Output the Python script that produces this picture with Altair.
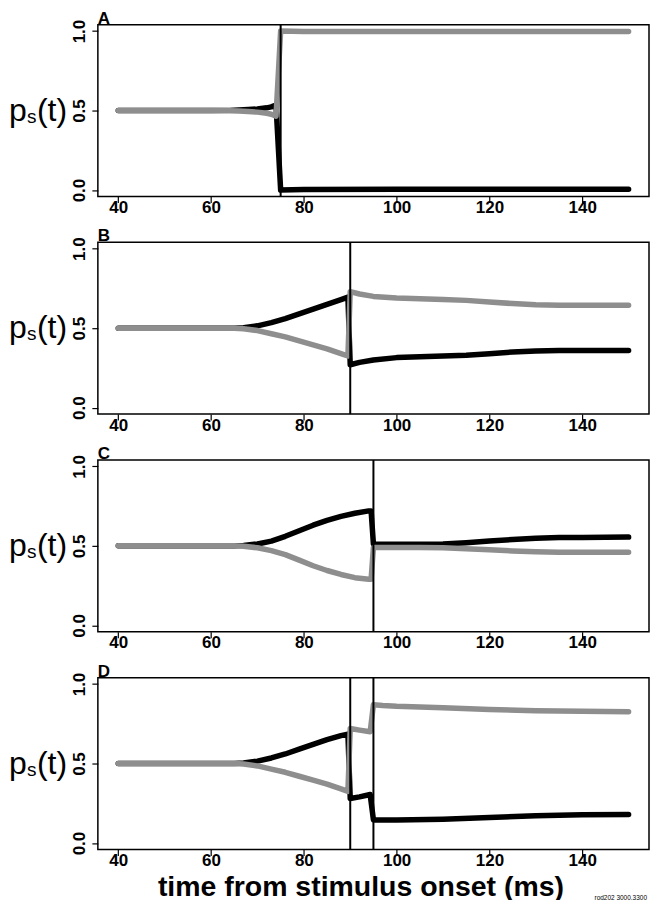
import altair as alt
import pandas as pd

# ---------------- data ----------------
XTICKS = [40, 60, 80, 100, 120, 140]
YTICKS = [0.0, 0.5, 1.0]
LETTERS = ["A", "B", "C", "D"]

tA = [40, 50, 60, 64, 66, 68, 70, 72, 73, 74, 75, 80, 100, 120, 150]
blackA = [0.5, 0.5, 0.5, 0.501, 0.503, 0.506, 0.51, 0.517, 0.523, 0.535, 0.0, 0.004, 0.005, 0.005, 0.005]
grayA = [0.5, 0.5, 0.5, 0.499, 0.497, 0.494, 0.49, 0.483, 0.477, 0.465, 1.0, 0.997, 0.997, 0.997, 0.997]
vA = [75]

tB = [40, 60, 65, 67, 70, 73, 76, 79, 82, 85, 88, 89.5, 90, 92, 95, 100, 105, 110, 115, 120, 125, 130, 135, 140, 145, 150]
blackB = [0.5, 0.5, 0.5, 0.503, 0.515, 0.535, 0.56, 0.59, 0.62, 0.65, 0.68, 0.695, 0.27, 0.285, 0.30, 0.315, 0.32, 0.325, 0.33, 0.34, 0.35, 0.357, 0.36, 0.36, 0.36, 0.36]
grayB = [0.5, 0.5, 0.5, 0.497, 0.485, 0.465, 0.445, 0.42, 0.395, 0.37, 0.34, 0.325, 0.73, 0.715, 0.70, 0.69, 0.685, 0.68, 0.675, 0.665, 0.655, 0.648, 0.645, 0.645, 0.645, 0.645]
vB = [90]

tC = [40, 60, 65, 67, 70, 73, 76, 79, 82, 85, 88, 91, 94, 94.5, 95, 96, 100, 105, 110, 115, 120, 125, 130, 135, 140, 145, 150]
blackC = [0.5, 0.5, 0.5, 0.503, 0.512, 0.53, 0.56, 0.595, 0.63, 0.66, 0.685, 0.705, 0.72, 0.72, 0.51, 0.51, 0.51, 0.51, 0.512, 0.52, 0.53, 0.54, 0.548, 0.552, 0.553, 0.554, 0.555]
grayC = [0.5, 0.5, 0.5, 0.497, 0.488, 0.47, 0.445, 0.41, 0.375, 0.345, 0.32, 0.30, 0.29, 0.29, 0.49, 0.49, 0.49, 0.49, 0.488, 0.482, 0.475, 0.468, 0.463, 0.46, 0.46, 0.46, 0.46]
vC = [95]

tD = [40, 60, 65, 67, 70, 73, 76, 79, 82, 85, 88, 89.5, 90, 92, 94.3, 95, 97, 100, 110, 120, 130, 140, 150]
blackD = [0.5, 0.5, 0.5, 0.503, 0.515, 0.535, 0.56, 0.59, 0.62, 0.65, 0.675, 0.685, 0.28, 0.29, 0.305, 0.145, 0.145, 0.145, 0.15, 0.16, 0.172, 0.178, 0.18]
grayD = [0.5, 0.5, 0.5, 0.497, 0.485, 0.465, 0.445, 0.42, 0.395, 0.37, 0.34, 0.325, 0.72, 0.71, 0.70, 0.87, 0.865, 0.86, 0.85, 0.84, 0.832, 0.828, 0.826]
vD = [90, 95]

XTITLE = "time from stimulus onset (ms)"
NOTE = "rod202 3000,3300"

PANELS = [
    (tA, blackA, grayA, vA),
    (tB, blackB, grayB, vB),
    (tC, blackC, grayC, vC),
    (tD, blackD, grayD, vD),
]

W, H = 552, 172
FONT = "Liberation Sans"
GRAY = "#8e8e8e"


def panel(letter, t, black, gray, vlines, last):
    xscale = alt.Scale(domain=[35.6, 154.4], nice=False, zero=False)
    yscale = alt.Scale(domain=[-0.04, 1.04], nice=False, zero=False)
    if last:
        xaxis = alt.Axis(values=XTICKS, title=XTITLE, titleFont=FONT, titleFontSize=28.5,
                         titleFontWeight="bold", titleColor="black", titleX=263, titleY=46,
                         titleBaseline="alphabetic", titleAlign="center", labelPadding=-3)
    else:
        xaxis = alt.Axis(values=XTICKS, title=None, labelPadding=-3)
    yaxis = alt.Axis(values=YTICKS, title=None, format=".1f", labelAngle=270,
                     labelAlign="center", labelBaseline="bottom", labelPadding=3)
    X = alt.X("t:Q", scale=xscale, axis=xaxis)
    Y = alt.Y("p:Q", scale=yscale, axis=yaxis)

    dfb = pd.DataFrame({"t": t, "p": black})
    dfg = pd.DataFrame({"t": t, "p": gray})
    dfr = pd.DataFrame({"t": vlines})

    lb = alt.Chart(dfb).mark_line(color="black", strokeWidth=5.5, strokeCap="round",
                                  strokeJoin="round").encode(x=X, y=Y)
    lg = alt.Chart(dfg).mark_line(color=GRAY, strokeWidth=5.5, strokeCap="round",
                                  strokeJoin="round").encode(x=X, y=Y)
    rl = alt.Chart(dfr).mark_rule(color="black", strokeWidth=2).encode(x=X)

    lab = alt.Chart(pd.DataFrame({"s": [letter]})).mark_text(
        font=FONT, fontSize=17, fontWeight="bold", align="left", baseline="alphabetic",
        color="black").encode(x=alt.value(0), y=alt.value(-1), text="s:N")
    p1 = alt.Chart(pd.DataFrame({"s": ["p"]})).mark_text(
        font=FONT, fontSize=32, align="left", baseline="alphabetic", color="black"
    ).encode(x=alt.value(-89), y=alt.value(96), text="s:N")
    p2 = alt.Chart(pd.DataFrame({"s": ["s"]})).mark_text(
        font=FONT, fontSize=19, align="left", baseline="alphabetic", color="black"
    ).encode(x=alt.value(-71), y=alt.value(98), text="s:N")
    p3 = alt.Chart(pd.DataFrame({"s": ["(t)"]})).mark_text(
        font=FONT, fontSize=32, align="left", baseline="alphabetic", color="black"
    ).encode(x=alt.value(-61), y=alt.value(96), text="s:N")

    layers = [lb, lg, rl, lab, p1, p2, p3]
    if last:
        note = alt.Chart(pd.DataFrame({"s": [NOTE]})).mark_text(
            font=FONT, fontSize=6.5, align="right", baseline="alphabetic", color="black"
        ).encode(x=alt.value(550), y=alt.value(223), text="s:N")
        layers.append(note)
    return alt.layer(*layers).properties(width=W, height=H)


charts = [panel(LETTERS[i], *PANELS[i], last=(i == 3)) for i in range(4)]

chart = alt.VConcatChart(vconcat=charts, spacing=46, bounds="flush").properties(
    padding={"left": 0, "top": 0, "right": 0, "bottom": 0}
).configure_view(
    stroke="black", strokeWidth=1.5
).configure_axis(
    labelFont=FONT, labelFontSize=17, labelFontWeight="bold", labelColor="black",
    tickColor="black", tickSize=6, tickWidth=1.2, domain=False, grid=False
)

chart.save("out.html", embed_options={"renderer": "svg", "actions": False})
